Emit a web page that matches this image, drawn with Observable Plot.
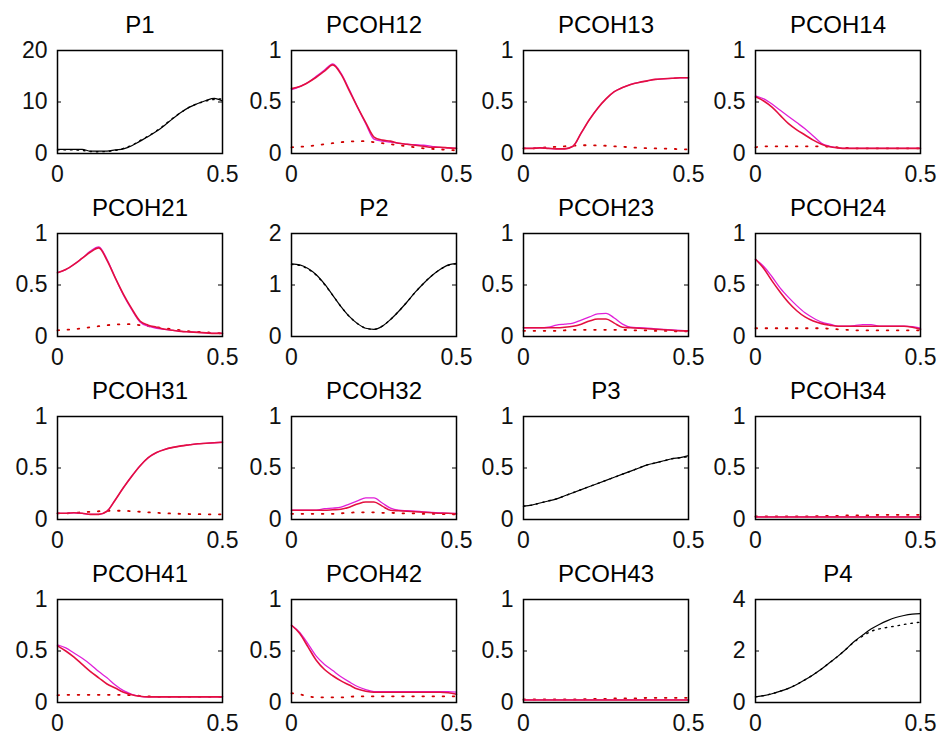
<!DOCTYPE html>
<html>
<head>
<meta charset="utf-8">
<script src="https://cdn.jsdelivr.net/npm/d3@7"></script>
<script src="https://cdn.jsdelivr.net/npm/@observablehq/plot@0.6"></script>
<style>
  html, body { margin: 0; padding: 0; background: #fff; }
  #grid { position: relative; width: 941px; height: 738px; background: #fff; overflow: hidden; }
  #grid svg { position: absolute; }
</style>
</head>
<body>
<div id="grid"></div>
<script>
// Frequency grid (normalized frequency 0 .. 0.5)
const freq = [0,0.025,0.05,0.075,0.1,0.125,0.15,0.175,0.2,0.225,0.25,0.275,0.3,0.325,0.35,0.375,0.4,0.425,0.45,0.475,0.5];

// Panel titles (row-major 4x4)
const titles = ["P1","PCOH12","PCOH13","PCOH14","PCOH21","P2","PCOH23","PCOH24","PCOH31","PCOH32","P3","PCOH34","PCOH41","PCOH42","PCOH43","P4"];

// Y-axis tick labels
const ticksP1 = [0,10,20];
const ticksP2 = [0,1,2];
const ticksP4 = [0,2,4];
const ticksCoh = [0,0.5,1];
const ticksX = [0,0.5];

// Spectra (black solid = estimate, black dotted = reference)
const p1    = [0.8,0.8,0.8,0.8,0.45,0.45,0.45,0.7,0.9,1.5,2.4,3.3,4.3,5.5,6.8,8.0,9.0,9.7,10.3,10.7,10.2];
const p1Dot = [0.7,0.7,0.7,0.6,0.4,0.35,0.4,0.6,1.0,1.6,2.5,3.4,4.4,5.6,6.9,8.0,9.0,9.7,10.2,10.5,10.6];
const p2    = [1.41,1.39,1.32,1.2,1.02,0.8,0.58,0.39,0.25,0.16,0.14,0.2,0.33,0.49,0.67,0.86,1.03,1.18,1.3,1.39,1.42];
const p2Dot = [1.4,1.38,1.31,1.19,1.01,0.8,0.58,0.39,0.25,0.16,0.14,0.2,0.33,0.49,0.67,0.86,1.03,1.18,1.3,1.38,1.41];
const p3    = [0.13,0.14,0.16,0.18,0.2,0.23,0.26,0.29,0.32,0.35,0.38,0.41,0.44,0.47,0.5,0.53,0.55,0.57,0.59,0.6,0.62];
const p3Dot = [0.13,0.14,0.16,0.18,0.2,0.23,0.26,0.29,0.32,0.35,0.38,0.41,0.44,0.47,0.5,0.53,0.55,0.57,0.59,0.6,0.61];
const p4    = [0.22,0.27,0.34,0.44,0.55,0.7,0.88,1.08,1.3,1.55,1.8,2.08,2.38,2.62,2.85,3.03,3.18,3.3,3.38,3.43,3.45];
const p4Dot = [0.22,0.27,0.34,0.44,0.55,0.7,0.88,1.08,1.3,1.55,1.8,2.08,2.36,2.58,2.76,2.86,2.92,2.97,3.03,3.08,3.12];

// Partial coherences: magenta (upper), red (estimate), red dotted (threshold)
const c12Mag = [0.62,0.65,0.69,0.75,0.81,0.87,0.78,0.62,0.45,0.29,0.14,0.12,0.11,0.1,0.09,0.085,0.08,0.07,0.06,0.055,0.05];
const c12Red = [0.63,0.65,0.69,0.74,0.8,0.86,0.77,0.61,0.45,0.3,0.16,0.13,0.12,0.1,0.09,0.08,0.07,0.06,0.06,0.055,0.05];
const c12Thr = [0.06,0.065,0.07,0.08,0.09,0.1,0.11,0.115,0.12,0.12,0.11,0.1,0.09,0.08,0.07,0.06,0.05,0.045,0.04,0.035,0.03];

const c13Mag = [0.05,0.05,0.055,0.05,0.045,0.045,0.07,0.2,0.33,0.44,0.53,0.6,0.64,0.67,0.69,0.705,0.72,0.725,0.73,0.735,0.735];
const c13Red = [0.05,0.05,0.055,0.05,0.045,0.045,0.07,0.2,0.33,0.44,0.53,0.6,0.64,0.67,0.69,0.705,0.72,0.725,0.73,0.735,0.735];
const c13Thr = [0.05,0.05,0.055,0.06,0.065,0.07,0.075,0.08,0.08,0.078,0.075,0.07,0.065,0.06,0.055,0.052,0.05,0.048,0.045,0.042,0.04];

const c14Mag = [0.56,0.53,0.48,0.42,0.36,0.3,0.24,0.17,0.1,0.07,0.055,0.05,0.05,0.05,0.05,0.05,0.05,0.05,0.05,0.05,0.05];
const c14Red = [0.55,0.51,0.45,0.37,0.29,0.23,0.18,0.13,0.09,0.065,0.055,0.05,0.05,0.05,0.05,0.05,0.05,0.05,0.05,0.05,0.05];
const c14Thr = [0.06,0.07,0.07,0.07,0.07,0.07,0.07,0.07,0.07,0.065,0.06,0.055,0.05,0.05,0.05,0.05,0.05,0.05,0.05,0.05,0.05];

const c21Mag = [0.62,0.65,0.7,0.76,0.83,0.87,0.75,0.57,0.4,0.26,0.14,0.1,0.08,0.07,0.06,0.05,0.045,0.04,0.035,0.03,0.03];
const c21Red = [0.62,0.65,0.7,0.76,0.82,0.86,0.74,0.57,0.41,0.27,0.15,0.11,0.09,0.07,0.06,0.05,0.045,0.04,0.035,0.03,0.03];
const c21Thr = [0.06,0.065,0.07,0.08,0.09,0.1,0.11,0.115,0.12,0.12,0.11,0.1,0.09,0.08,0.07,0.06,0.05,0.045,0.04,0.035,0.03];

const c23Mag = [0.085,0.085,0.085,0.09,0.11,0.12,0.13,0.16,0.19,0.22,0.225,0.18,0.12,0.09,0.085,0.08,0.075,0.07,0.065,0.06,0.055];
const c23Red = [0.085,0.085,0.085,0.085,0.085,0.09,0.1,0.12,0.15,0.17,0.17,0.13,0.09,0.085,0.08,0.075,0.07,0.065,0.06,0.055,0.055];
const c23Thr = [0.055,0.055,0.055,0.055,0.055,0.06,0.065,0.065,0.065,0.065,0.065,0.065,0.065,0.06,0.06,0.06,0.055,0.055,0.05,0.05,0.05];

const c24Mag = [0.75,0.68,0.58,0.47,0.38,0.3,0.23,0.18,0.14,0.12,0.1,0.1,0.105,0.115,0.115,0.1,0.1,0.1,0.1,0.095,0.08];
const c24Red = [0.75,0.66,0.54,0.43,0.33,0.25,0.19,0.15,0.125,0.11,0.1,0.1,0.1,0.1,0.1,0.1,0.1,0.1,0.1,0.09,0.07];
const c24Thr = [0.08,0.08,0.08,0.08,0.08,0.08,0.08,0.08,0.08,0.075,0.07,0.065,0.06,0.06,0.06,0.06,0.06,0.06,0.06,0.06,0.06];

const c31Mag = [0.06,0.06,0.065,0.06,0.05,0.05,0.08,0.19,0.31,0.42,0.52,0.6,0.65,0.68,0.7,0.715,0.725,0.735,0.74,0.745,0.75];
const c31Red = [0.06,0.06,0.065,0.06,0.05,0.05,0.08,0.19,0.31,0.42,0.52,0.6,0.65,0.68,0.7,0.715,0.725,0.735,0.74,0.745,0.75];
const c31Thr = [0.06,0.06,0.065,0.07,0.075,0.08,0.085,0.085,0.085,0.08,0.075,0.07,0.065,0.06,0.058,0.055,0.053,0.052,0.05,0.05,0.05];

const c32Mag = [0.09,0.09,0.09,0.09,0.105,0.11,0.12,0.15,0.18,0.21,0.21,0.16,0.11,0.09,0.085,0.08,0.075,0.07,0.065,0.06,0.06];
const c32Red = [0.09,0.09,0.09,0.09,0.09,0.095,0.1,0.12,0.15,0.17,0.17,0.13,0.09,0.085,0.08,0.075,0.07,0.065,0.06,0.06,0.055];
const c32Thr = [0.055,0.055,0.055,0.055,0.055,0.055,0.06,0.065,0.07,0.07,0.07,0.065,0.065,0.06,0.06,0.06,0.055,0.055,0.055,0.05,0.05];

const c34Mag = [0.025,0.025,0.025,0.025,0.025,0.025,0.025,0.025,0.025,0.025,0.025,0.025,0.025,0.025,0.025,0.025,0.025,0.025,0.025,0.025,0.025];
const c34Red = [0.025,0.025,0.025,0.025,0.025,0.025,0.025,0.025,0.025,0.025,0.025,0.025,0.025,0.025,0.025,0.025,0.025,0.025,0.025,0.025,0.025];
const c34Thr = [0.03,0.03,0.03,0.03,0.03,0.03,0.03,0.03,0.035,0.035,0.035,0.04,0.04,0.04,0.04,0.045,0.045,0.045,0.045,0.045,0.045];

const c41Mag = [0.56,0.53,0.48,0.43,0.37,0.3,0.24,0.17,0.115,0.08,0.06,0.055,0.055,0.055,0.055,0.055,0.055,0.055,0.055,0.055,0.055];
const c41Red = [0.55,0.5,0.44,0.37,0.3,0.24,0.18,0.14,0.1,0.075,0.06,0.055,0.055,0.055,0.055,0.055,0.055,0.055,0.055,0.055,0.055];
const c41Thr = [0.07,0.075,0.075,0.075,0.075,0.075,0.075,0.075,0.075,0.07,0.065,0.06,0.055,0.055,0.055,0.055,0.055,0.055,0.055,0.055,0.055];

const c42Mag = [0.75,0.68,0.57,0.45,0.37,0.31,0.25,0.2,0.155,0.125,0.105,0.105,0.105,0.105,0.105,0.105,0.105,0.105,0.105,0.105,0.1];
const c42Red = [0.75,0.67,0.54,0.41,0.32,0.26,0.21,0.17,0.13,0.11,0.1,0.1,0.1,0.1,0.1,0.1,0.1,0.1,0.1,0.095,0.08];
const c42Thr = [0.09,0.08,0.06,0.05,0.05,0.05,0.05,0.055,0.06,0.06,0.06,0.06,0.06,0.06,0.06,0.06,0.06,0.06,0.06,0.06,0.06];

const c43Mag = [0.025,0.025,0.025,0.025,0.025,0.025,0.025,0.025,0.025,0.025,0.025,0.025,0.025,0.025,0.025,0.025,0.025,0.025,0.025,0.025,0.025];
const c43Red = [0.025,0.025,0.025,0.025,0.025,0.025,0.025,0.025,0.025,0.025,0.025,0.025,0.025,0.025,0.025,0.025,0.025,0.025,0.025,0.025,0.025];
const c43Thr = [0.03,0.03,0.03,0.03,0.03,0.03,0.03,0.03,0.035,0.035,0.035,0.04,0.04,0.04,0.04,0.045,0.045,0.045,0.045,0.045,0.045];

// Styles
const BLACK = "#000";
const MAG = "#e020d8";
const RED = "#e3103f";
const THR = "#d00000";

function spec(solid, dotted) {
  return [
    {values: dotted, color: BLACK, width: 1.4, dash: "1.5,5"},
    {values: solid, color: BLACK, width: 1.2, dash: null}
  ];
}
function coh(mag, red, thr) {
  return [
    {values: thr, color: THR, width: 1.8, dash: "1.6,8.5"},
    {values: mag, color: MAG, width: 1.3, dash: null},
    {values: red, color: RED, width: 1.6, dash: null}
  ];
}

const panels = [
  {y: [0,20], ticks: ticksP1, lines: spec(p1, p1Dot)},
  {y: [0,1], ticks: ticksCoh, lines: coh(c12Mag, c12Red, c12Thr)},
  {y: [0,1], ticks: ticksCoh, lines: coh(c13Mag, c13Red, c13Thr)},
  {y: [0,1], ticks: ticksCoh, lines: coh(c14Mag, c14Red, c14Thr)},
  {y: [0,1], ticks: ticksCoh, lines: coh(c21Mag, c21Red, c21Thr)},
  {y: [0,2], ticks: ticksP2, lines: spec(p2, p2Dot)},
  {y: [0,1], ticks: ticksCoh, lines: coh(c23Mag, c23Red, c23Thr)},
  {y: [0,1], ticks: ticksCoh, lines: coh(c24Mag, c24Red, c24Thr)},
  {y: [0,1], ticks: ticksCoh, lines: coh(c31Mag, c31Red, c31Thr)},
  {y: [0,1], ticks: ticksCoh, lines: coh(c32Mag, c32Red, c32Thr)},
  {y: [0,1], ticks: ticksCoh, lines: spec(p3, p3Dot)},
  {y: [0,1], ticks: ticksCoh, lines: coh(c34Mag, c34Red, c34Thr)},
  {y: [0,1], ticks: ticksCoh, lines: coh(c41Mag, c41Red, c41Thr)},
  {y: [0,1], ticks: ticksCoh, lines: coh(c42Mag, c42Red, c42Thr)},
  {y: [0,1], ticks: ticksCoh, lines: coh(c43Mag, c43Red, c43Thr)},
  {y: [0,4], ticks: ticksP4, lines: spec(p4, p4Dot)}
];

const colLeft = [1, 235, 467, 699];
const rowTop = [0, 183, 366, 549];
const W = 233, H = 183, ML = 56, MR = 12, MT = 50, MB = 30;
const innerW = W - ML - MR, innerH = H - MT - MB;

const grid = document.getElementById("grid");
panels.forEach((p, k) => {
  const marks = [];
  p.lines.forEach(l => {
    const data = freq.map((f, i) => ({f, v: l.values[i]}));
    marks.push(Plot.line(data, {x: "f", y: "v", stroke: l.color, strokeWidth: l.width, strokeDasharray: l.dash, strokeLinecap: "round", curve: "monotone-x"}));
  });
  marks.push(
    Plot.tickY(p.ticks, {y: d => d, insetRight: innerW - 4, stroke: BLACK}),
    Plot.tickY(p.ticks, {y: d => d, insetLeft: innerW - 4, stroke: BLACK}),
    Plot.tickX(ticksX, {x: d => d, insetTop: innerH - 4, stroke: BLACK}),
    Plot.tickX(ticksX, {x: d => d, insetBottom: innerH - 4, stroke: BLACK}),
    Plot.frame({stroke: BLACK, strokeWidth: 1.5}),
    Plot.axisX(ticksX, {tickSize: 0, tickPadding: 12, label: null, tickFormat: d => String(d)}),
    Plot.axisY(p.ticks, {tickSize: 0, tickPadding: 10, label: null, tickFormat: d => String(d)}),
    Plot.text([titles[k]], {frameAnchor: "top", dy: -18, lineAnchor: "bottom", fill: BLACK, fontSize: 24})
  );
  const svg = Plot.plot({
    width: W, height: H,
    marginLeft: ML, marginRight: MR, marginTop: MT, marginBottom: MB,
    x: {domain: [0, 0.5], label: null},
    y: {domain: p.y, label: null},
    style: {fontFamily: "'Liberation Sans', Arial, sans-serif", fontSize: "23px", color: "#111", background: "transparent", overflow: "visible"},
    marks
  });
  const c = k % 4, r = Math.floor(k / 4);
  svg.style.left = colLeft[c] + "px";
  svg.style.top = rowTop[r] + "px";
  grid.appendChild(svg);
});
</script>
</body>
</html>
